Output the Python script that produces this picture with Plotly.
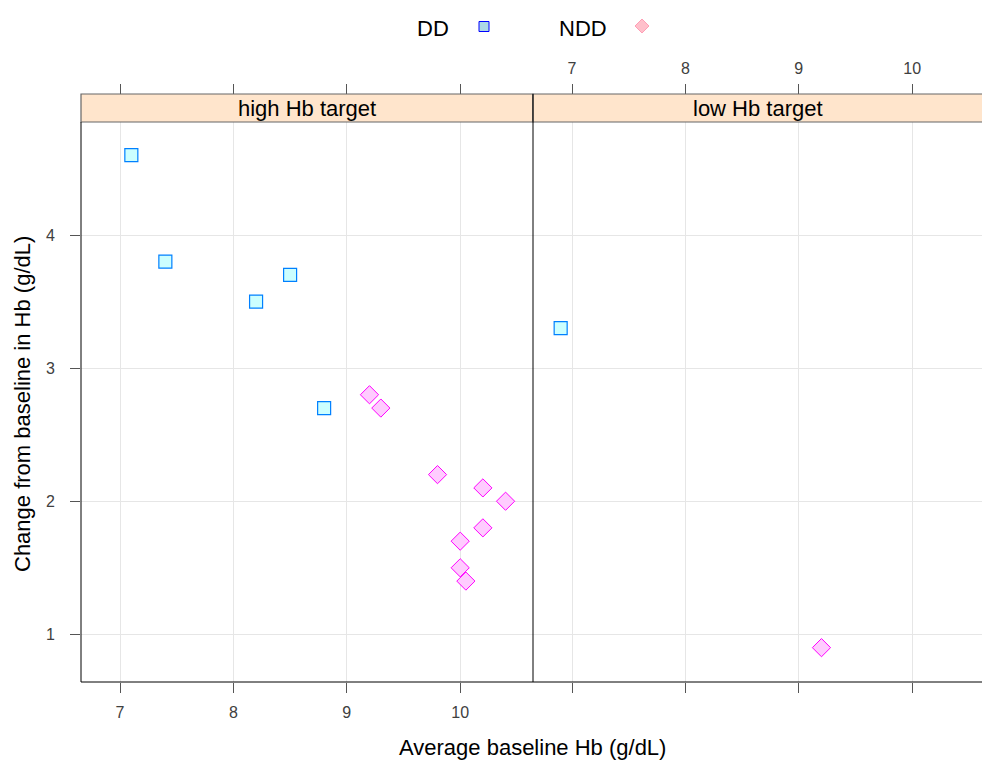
import plotly.graph_objects as go

# ---- data ----
high_dd_x = [7.1, 7.4, 8.2, 8.5, 8.8]
high_dd_y = [4.6, 3.8, 3.5, 3.7, 2.7]
high_ndd_x = [9.2, 9.3, 9.8, 10.2, 10.4, 10.2, 10.0, 10.0, 10.05]
high_ndd_y = [2.8, 2.7, 2.2, 2.1, 2.0, 1.8, 1.7, 1.5, 1.4]
low_dd_x = [6.9]
low_dd_y = [3.3]
low_ndd_x = [9.2]
low_ndd_y = [0.9]
panel_labels = ["high Hb target", "low Hb target"]
group_labels = ["DD", "NDD"]
x_ticks = [7, 8, 9, 10]
y_ticks = [1, 2, 3, 4]

W, H = 982, 760
def px(x): return x / W
def py(y): return 1 - y / H

L, M, R = 81, 533, 982
TOP_STRIP, TOP_PANEL, BOTTOM = 94, 122, 682

x_per_unit = 113.4
x_lo = 7 - (120 - L) / x_per_unit
x_hi_left = x_lo + (M - L) / x_per_unit
x_hi_right = x_lo + (R - M) / x_per_unit
y_lo, y_hi = 0.642, 4.849

FONT = "Liberation Sans, Arial, sans-serif"
dd_style = dict(symbol="square", size=13, color="#CCFFFF", line=dict(color="#0080FF", width=1.2))
ndd_style = dict(symbol="diamond", size=14, color="#FFCCFF", line=dict(color="#FF00FF", width=1))

fig = go.Figure()
fig.add_trace(go.Scatter(x=high_dd_x, y=high_dd_y, mode="markers", marker=dd_style,
                         xaxis="x", yaxis="y", showlegend=False, name="DD"))
fig.add_trace(go.Scatter(x=high_ndd_x, y=high_ndd_y, mode="markers", marker=ndd_style,
                         xaxis="x", yaxis="y", showlegend=False, name="NDD"))
fig.add_trace(go.Scatter(x=low_dd_x, y=low_dd_y, mode="markers", marker=dd_style,
                         xaxis="x2", yaxis="y2", showlegend=False, name="DD"))
fig.add_trace(go.Scatter(x=low_ndd_x, y=low_ndd_y, mode="markers", marker=ndd_style,
                         xaxis="x2", yaxis="y2", showlegend=False, name="NDD"))

tickfont = dict(family=FONT, size=16, color="#404040")
common_x = dict(tickvals=x_ticks, ticks="outside", ticklen=10, tickcolor="#555555", tickwidth=1,
                showgrid=True, gridcolor="#E6E6E6", gridwidth=1, zeroline=False,
                showline=False, tickfont=tickfont, automargin=False, ticklabelstandoff=6)

ydom = [py(BOTTOM), py(TOP_PANEL)]
strip_y = py(TOP_STRIP)

fig.update_layout(
    width=W, height=H, margin=dict(l=0, r=0, t=0, b=0),
    plot_bgcolor="white", paper_bgcolor="white", showlegend=False,
    xaxis=dict(domain=[px(L), px(M)], range=[x_lo, x_hi_left], anchor="y", **common_x),
    xaxis2=dict(domain=[px(M), 1.0], range=[x_lo, x_hi_right], anchor="y2",
                **{**common_x, "showticklabels": False}),
    xaxis3=dict(overlaying="x", matches="x", side="top", anchor="free", position=strip_y,
                **{**common_x, "showgrid": False, "showticklabels": False}),
    xaxis4=dict(overlaying="x2", matches="x2", side="top", anchor="free", position=strip_y,
                **{**common_x, "showgrid": False, "ticklabelstandoff": 4}),
    yaxis=dict(domain=ydom, range=[y_lo, y_hi], anchor="x", tickvals=y_ticks,
               ticks="outside", ticklen=10, tickcolor="#555555", showgrid=True,
               gridcolor="#E6E6E6", zeroline=False, showline=False, tickfont=tickfont,
               automargin=False, ticklabelstandoff=12),
    yaxis2=dict(domain=ydom, range=[y_lo, y_hi], anchor="x2", matches="y", tickvals=y_ticks,
                ticks="", showticklabels=False, showgrid=True, gridcolor="#E6E6E6",
                zeroline=False, showline=False, automargin=False),
)
# dummy traces to make top axes render
fig.add_trace(go.Scatter(x=[], y=[], xaxis="x3", yaxis="y", showlegend=False))
fig.add_trace(go.Scatter(x=[], y=[], xaxis="x4", yaxis="y2", showlegend=False))

shapes = []
# strips
for x0, x1 in [(L, M), (M, R + 2)]:
    shapes.append(dict(type="rect", xref="paper", yref="paper", x0=px(x0), x1=px(x1),
                       y0=py(TOP_PANEL), y1=py(TOP_STRIP), fillcolor="#FFE5CC",
                       line=dict(color="#666666", width=1.2), layer="above"))
# panel borders
blk = dict(color="black", width=1)
shapes.append(dict(type="line", xref="paper", yref="paper", x0=px(L), x1=px(R), y0=py(BOTTOM), y1=py(BOTTOM), line=blk, layer="above"))
shapes.append(dict(type="line", xref="paper", yref="paper", x0=px(L), x1=px(L), y0=py(BOTTOM), y1=py(TOP_PANEL), line=blk, layer="above"))
shapes.append(dict(type="line", xref="paper", yref="paper", x0=px(M), x1=px(M), y0=py(BOTTOM), y1=py(TOP_STRIP), line=blk, layer="above"))

# legend symbols
shapes.append(dict(type="rect", xref="paper", yref="paper", xsizemode="pixel", ysizemode="pixel",
                   xanchor=px(484), yanchor=py(26.5), x0=-5, x1=5, y0=-5, y1=5,
                   fillcolor="#ADD8E6", line=dict(color="#0000FF", width=1)))
shapes.append(dict(type="path", xref="paper", yref="paper", xsizemode="pixel", ysizemode="pixel",
                   xanchor=px(642), yanchor=py(26), path="M -7 0 L 0 7 L 7 0 L 0 -7 Z",
                   fillcolor="#FFC0CB", line=dict(color="#FF9EB5", width=1)))
fig.update_layout(shapes=shapes)

ann = []
for label, x0, x1 in [(panel_labels[0], L, M), (panel_labels[1], M, R)]:
    ann.append(dict(text=label, xref="paper", yref="paper", x=px((x0 + x1) / 2), y=py(108),
                    showarrow=False, xanchor="center", yanchor="middle",
                    font=dict(family=FONT, size=22, color="black")))
ann.append(dict(text=group_labels[0], xref="paper", yref="paper", x=px(433), y=py(28),
                showarrow=False, xanchor="center", yanchor="middle", font=dict(family=FONT, size=22, color="black")))
ann.append(dict(text=group_labels[1], xref="paper", yref="paper", x=px(583), y=py(28),
                showarrow=False, xanchor="center", yanchor="middle", font=dict(family=FONT, size=22, color="black")))
ann.append(dict(text="Average baseline Hb (g/dL)", xref="paper", yref="paper", x=px(532), y=py(747),
                showarrow=False, xanchor="center", yanchor="middle", font=dict(family=FONT, size=22, color="black")))
ann.append(dict(text="Change from baseline in Hb (g/dL)", xref="paper", yref="paper", x=px(22), y=py(404),
                showarrow=False, xanchor="center", yanchor="middle", textangle=-90,
                font=dict(family=FONT, size=22, color="black")))
fig.update_layout(annotations=ann)

fig.write_html("out.html", config={"displayModeBar": False, "staticPlot": True},
               post_script="document.body.style.margin='0';document.body.style.overflow='hidden';")
